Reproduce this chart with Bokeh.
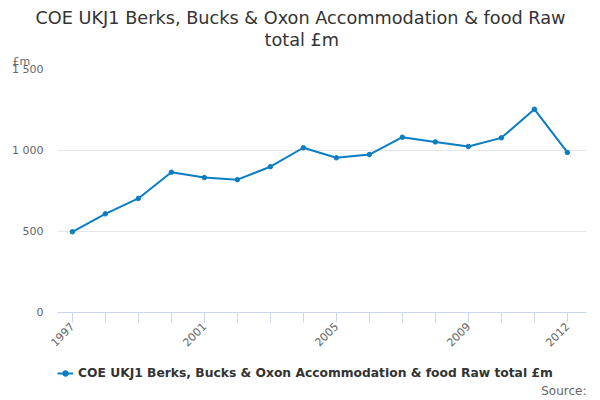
from math import pi
from bokeh.plotting import figure
from bokeh.layouts import column
from bokeh.models import Legend, LegendItem, FixedTicker, Range1d, Label, Title
from bokeh.embed import file_html
from bokeh.resources import INLINE

years = [1997, 1998, 1999, 2000, 2001, 2002, 2003, 2004, 2005, 2006, 2007, 2008, 2009, 2010, 2011, 2012]
values = [498, 609, 704, 866, 833, 820, 900, 1017, 955, 975, 1082, 1053, 1025, 1078, 1255, 988]
x_labels = {1997: "1997", 2001: "2001", 2005: "2005", 2009: "2009", 2012: "2012"}
y_ticks = [0, 500, 1000, 1500]
y_labels = {0: "0", 500: "500", 1000: "1 000", 1500: "1 500"}
title_lines = ["COE UKJ1 Berks, Bucks & Oxon Accommodation & food Raw", "total £m"]
unit_label = "£m"
source_text = "Source:"
series_name = "COE UKJ1 Berks, Bucks & Oxon Accommodation & food Raw total £m"

FONT = "DejaVu Sans"
COLOR = "#0b7dc2"
W = 600
BL, BR = 57, 14   # left / right borders shared by all frames

# ---- header: two title lines above a thin frame ----
head = figure(width=W, height=50, output_backend="svg", toolbar_location=None,
              x_range=Range1d(BL, W - BR), y_range=Range1d(0, 1),
              min_border_left=BL, min_border_right=BR, min_border_top=49, min_border_bottom=0,
              x_axis_location=None, y_axis_location=None)
head.outline_line_color = None
head.xgrid.visible = False
head.ygrid.visible = False
head.border_fill_color = "white"
head.background_fill_color = "white"
head.add_layout(Title(text=title_lines[1], align="left", offset=207, text_font=FONT,
                      text_font_size="17.7px", text_font_style="normal",
                      text_color="#333333", standoff=0), "above")
head.add_layout(Title(text=title_lines[0], align="left", offset=-22, text_font=FONT,
                      text_font_size="17.7px", text_font_style="normal",
                      text_color="#333333", standoff=0), "above")

# ---- main chart ----
p = figure(width=W, height=310, output_backend="svg", toolbar_location=None,
           x_range=Range1d(1996.55, 2012.58), y_range=Range1d(0, 1500),
           min_border_left=BL, min_border_right=BR, min_border_top=0, min_border_bottom=48)
p.outline_line_color = None
p.background_fill_color = "white"
p.border_fill_color = "white"
p.add_layout(Title(text=unit_label, align="left", offset=-45, text_font=FONT,
                   text_font_size="11px", text_font_style="normal",
                   text_color="#666666", standoff=4), "above")

line = p.line(years, values, line_color=COLOR, line_width=2)
pts = p.scatter(years, values, size=4.5, fill_color=COLOR, line_color=COLOR)

xa = p.xaxis[0]
xa.ticker = FixedTicker(ticks=years)
xa.major_label_overrides = {y: x_labels.get(y, "") for y in years}
xa.major_label_orientation = pi / 4
xa.major_label_text_font = FONT
xa.major_label_text_font_size = "11px"
xa.major_label_text_color = "#666666"
xa.axis_line_color = "#ccd6eb"
xa.major_tick_line_color = "#ccd6eb"
xa.major_tick_in = 0
xa.major_tick_out = 10
xa.minor_tick_line_color = None
xa.major_label_standoff = 2

ya = p.yaxis[0]
ya.ticker = FixedTicker(ticks=y_ticks)
ya.major_label_overrides = y_labels
ya.major_label_text_font = FONT
ya.major_label_text_font_size = "11px"
ya.major_label_text_color = "#666666"
ya.axis_line_color = None
ya.major_tick_line_color = None
ya.minor_tick_line_color = None
ya.major_tick_out = 0
ya.major_label_standoff = 14

p.xgrid.grid_line_color = None
p.ygrid.grid_line_color = "#e6e6e6"
p.ygrid.ticker = FixedTicker(ticks=y_ticks)

# ---- footer: legend and source ----
foot = figure(width=W, height=40, output_backend="svg", toolbar_location=None,
              x_range=Range1d(BL, W - BR), y_range=Range1d(0, 40),
              min_border_left=BL, min_border_right=BR, min_border_top=0, min_border_bottom=0,
              x_axis_location=None, y_axis_location=None)
foot.outline_line_color = None
foot.xgrid.visible = False
foot.ygrid.visible = False
foot.border_fill_color = "white"
foot.background_fill_color = "white"
fline = foot.line(years, values, line_color=COLOR, line_width=2)
fpts = foot.scatter(years, values, size=4.5, fill_color=COLOR, line_color=COLOR)
legend = Legend(items=[LegendItem(label=series_name, renderers=[fline, fpts])],
                location=(0, 20), orientation="horizontal",
                label_text_font=FONT, label_text_font_size="12.3px",
                label_text_font_style="bold", label_text_color="#333333",
                border_line_color=None, background_fill_alpha=0,
                glyph_width=16, glyph_height=14, label_standoff=5,
                padding=0, margin=0, spacing=0, label_height=14)
foot.add_layout(legend, "center")
foot.add_layout(Label(x=586, y=10, text=source_text, text_align="right",
                      text_baseline="middle", text_font=FONT, text_font_size="12px",
                      text_color="#666666"))

layout = column(head, p, foot, spacing=0)
open("out.html", "w").write(file_html(layout, INLINE))
